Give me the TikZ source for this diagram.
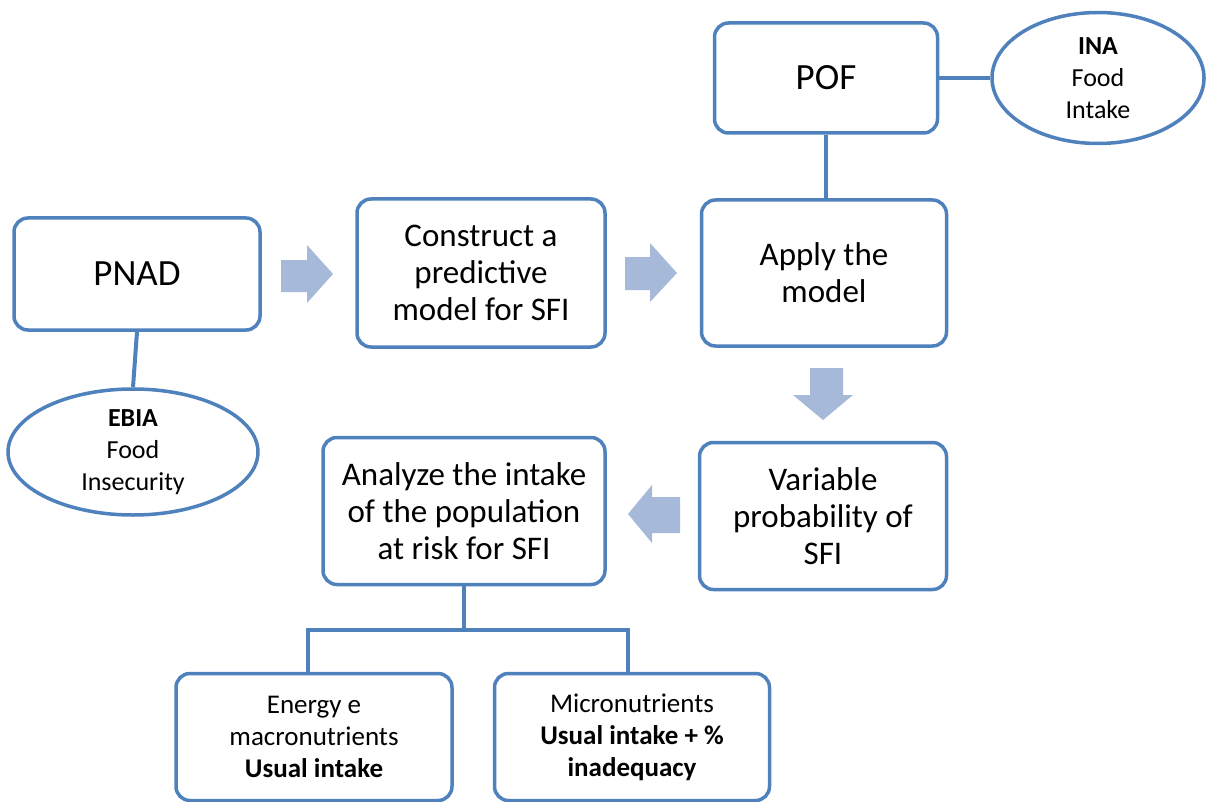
\documentclass[tikz,border=0pt]{standalone}
\usepackage{fontspec}
\setmainfont{Carlito}
\usetikzlibrary{shapes.geometric,calc}
\definecolor{boxblue}{RGB}{79,129,189}
\definecolor{arrowblue}{RGB}{167,185,216}
\tikzset{
  box/.style={draw=boxblue, line width=3.5pt, rounded corners=14pt, fill=white, align=center, inner sep=2pt},
  bigtext/.style={font=\fontsize{33}{37}\selectfont},
  hugetext/.style={font=\fontsize{37}{40}\selectfont},
  smalltext/.style={font=\fontsize{27}{32}\selectfont},
  ovaltext/.style={font=\fontsize{26}{32}\selectfont},
  oval/.style={draw=boxblue, line width=3.5pt, ellipse, fill=white, align=center, inner sep=0pt},
  link/.style={draw=boxblue, line width=4pt},
  barrow/.style={fill=arrowblue}
}
\begin{document}
\begin{tikzpicture}[x=1pt,y=-1pt]
\useasboundingbox (0,0) rectangle (1206,802);
% nodes
\node[box, hugetext, minimum width=246pt, minimum height=112pt] (pnad) at (137,274) {PNAD};
\node[oval, ovaltext, minimum width=250pt, minimum height=126pt] (ebia) at (133,452) {\textbf{EBIA}\\Food\\Insecurity};
\node[box, bigtext, minimum width=248pt, minimum height=148pt] (construct) at (481,273) {Construct a\\predictive\\model for SFI};
\node[box, hugetext, minimum width=223pt, minimum height=110pt] (pof) at (826,78) {POF};
\node[oval, ovaltext, minimum width=212pt, minimum height=131pt] (ina) at (1098,78) {\textbf{INA}\\Food\\Intake};
\node[box, bigtext, minimum width=245pt, minimum height=146pt] (apply) at (824,273) {Apply the\\model};
\node[box, bigtext, minimum width=247pt, minimum height=147pt] (variable) at (823,516) {Variable\\probability of\\SFI};
\node[box, bigtext, minimum width=282pt, minimum height=147pt] (analyze) at (464,511) {Analyze the intake\\of the population\\at risk for SFI};
\node[box, smalltext, minimum width=276pt, minimum height=127pt] (energy) at (314,737) {Energy e\\macronutrients\\\textbf{Usual intake}};
\node[box, smalltext, minimum width=275pt, minimum height=127pt] (micro) at (632,737) {Micronutrients\\\textbf{Usual intake + \%}\\\textbf{inadequacy}};
% connectors
\draw[link] (pnad.south) -- (ebia.north);
\draw[link] (pof.south) -- (pof.south |- apply.north);
\draw[link] (pof.east) -- (ina.west);
\coordinate (fork) at ($(analyze.south)+(0,44)$);
\draw[link] (analyze.south) -- (fork);
\draw[link] (fork) -| ($(energy.north)+(-6,0)$);
\draw[link] (fork) -| ($(micro.north)+(-4,0)$);
% block arrows
\fill[barrow] (281,260) -- (307,260) -- (307,245) -- (333,274) -- (307,303) -- (307,292) -- (281,292) -- cycle;
\fill[barrow] (625,257) -- (650,257) -- (650,243) -- (677,273) -- (650,302) -- (650,290) -- (625,290) -- cycle;
\fill[barrow] (810,368) -- (843,368) -- (843,395) -- (853,395) -- (823,420) -- (793,395) -- (810,395) -- cycle;
\fill[barrow] (680,497) -- (652,497) -- (652,485) -- (628,514) -- (652,543) -- (652,533) -- (680,533) -- cycle;
\end{tikzpicture}
\end{document}
